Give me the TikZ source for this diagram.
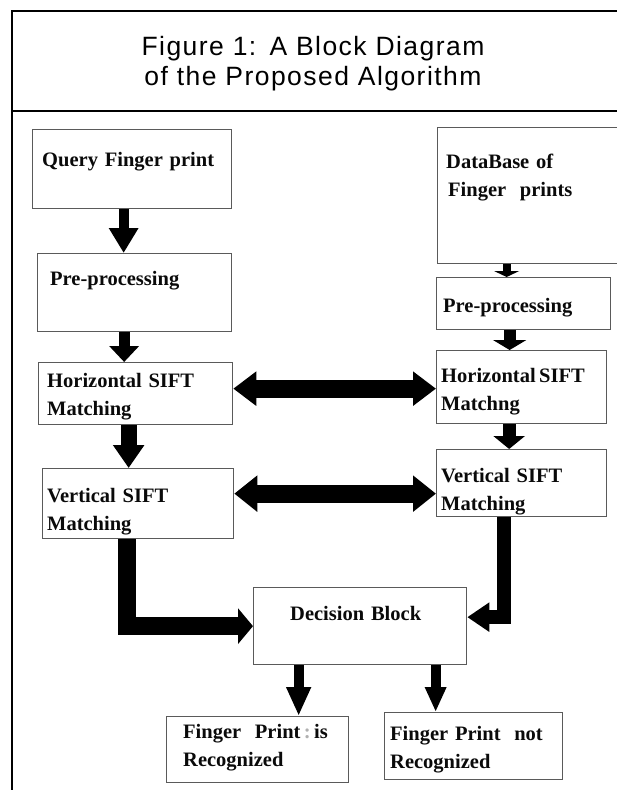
\documentclass[tikz,border=0pt]{standalone}
\usepackage{fontspec}
\setmainfont{Liberation Serif}
\newfontfamily\titlefont{Liberation Sans}[LetterSpace=5.5]
\usetikzlibrary{arrows.meta}

\definecolor{boxgray}{HTML}{5A5A5A}
\definecolor{inkblack}{HTML}{0A0A0A}
\definecolor{colongray}{HTML}{B0B0B0}

\begin{document}
\begin{tikzpicture}[x=1pt, y=-1pt,
    box/.style={draw=boxgray, line width=1.3pt, anchor=north west, inner sep=0pt},
    txt/.style={anchor=base west, inner sep=0pt, text width=190pt, align=left, text=inkblack,
        font=\bfseries\fontsize{20.5}{28}\selectfont},
    title/.style={anchor=base, inner sep=0pt, text width=440pt, align=center,
        font=\titlefont\fontsize{26.5}{30}\selectfont},
    fat/.style n args={3}{line width=#1, -{Triangle[width=#2, length=#3]}},
    fatboth/.style n args={3}{line width=#1,
        {Triangle[width=#2, length=#3]}-{Triangle[width=#2, length=#3]}},
    frame/.style={line width=2pt}]
    \useasboundingbox (0,0) rectangle (617,790);

    % frame and heading
    \draw[frame] (12,790) -- (12,11) -- (617,11);
    \draw[frame] (12,111) -- (617,111);
    \node[title] (title) at (313,55) {Figure 1: A Block Diagram\\of the Proposed Algorithm};

    % left column
    \node[box, minimum width=199pt, minimum height=79pt,
        label={[txt, xshift=10pt, yshift=-37pt]north west:{Query Finger print}}] (query) at (32,129) {};
    \node[box, minimum width=194pt, minimum height=78pt,
        label={[txt, xshift=13pt, yshift=-32pt]north west:{Pre-processing}}] (lpre) at (37,253) {};
    \node[box, minimum width=194pt, minimum height=62pt,
        label={[txt, xshift=9pt, yshift=-25pt]north west:{Horizontal SIFT\\Matching}}] (lhor) at (38,362) {};
    \node[box, minimum width=191pt, minimum height=70pt,
        label={[txt, xshift=5pt, yshift=-34pt]north west:{Vertical SIFT\\Matching}}] (lver) at (42,468) {};

    % right column
    \node[box, minimum width=182pt, minimum height=136pt,
        label={[txt, xshift=9pt, yshift=-41pt]north west:{DataBase of\\\hspace{2pt}Finger\ \ prints}}] (dbase) at (437,127) {};
    \node[box, minimum width=174pt, minimum height=52pt,
        label={[txt, xshift=7pt, yshift=-35pt]north west:{Pre-processing}}] (rpre) at (436,277) {};
    \node[box, minimum width=170pt, minimum height=73pt,
        label={[txt, xshift=5pt, yshift=-32pt]north west:{Horizontal\,SIFT\\Matchng}}] (rhor) at (436,350) {};
    \node[box, minimum width=170pt, minimum height=67pt,
        label={[txt, xshift=5pt, yshift=-33pt]north west:{Vertical SIFT\\Matching}}] (rver) at (436,449) {};

    % decision and results
    \node[box, minimum width=213pt, minimum height=77pt,
        label={[txt, xshift=37pt, yshift=-33pt]north west:{Decision Block}}] (dec) at (253,587) {};
    \node[box, minimum width=182pt, minimum height=66pt,
        label={[txt, xshift=17pt, yshift=-22pt]north west:{Finger\ \ Print\,{\color{colongray}:}\,is\\Recognized}}] (rec) at (166,716) {};
    \node[box, minimum width=178pt, minimum height=67pt,
        label={[txt, xshift=6pt, yshift=-28pt]north west:{Finger Print\ \ not\\Recognized}}] (nrec) at (384,712) {};

    % arrows
    \draw[fat={10pt}{28pt}{25pt}] ([xshift=-8.5pt]query.south) -- ([xshift=-8.5pt]query.south |- lpre.north);
    \draw[fat={11pt}{29pt}{16pt}] ([xshift=-10.5pt]lpre.south) -- ([xshift=-10.5pt]lpre.south |- lhor.north);
    \draw[fat={16pt}{30pt}{23pt}] ([xshift=-7pt]lhor.south) -- ([xshift=-7pt]lhor.south |- lver.north);
    \draw[fat={8pt}{25pt}{6pt}] ([xshift=-17pt]rpre.north |- dbase.south) -- ([xshift=-17pt]rpre.north);
    \draw[fat={12pt}{33pt}{10pt}] ([xshift=-14pt]rpre.south) -- ([xshift=-14pt]rpre.south |- rhor.north);
    \draw[fat={13pt}{31pt}{13pt}] ([xshift=-12.5pt]rhor.south) -- ([xshift=-12.5pt]rhor.south |- rver.north);
    \draw[fatboth={18pt}{33pt}{23pt}] ([yshift=5pt]lhor.east) -- ([yshift=5pt]lhor.east -| rhor.west);
    \draw[fatboth={18pt}{35pt}{23pt}] ([yshift=10pt]lver.east) -- ([yshift=10pt]lver.east -| rver.west);
    \draw[fat={18pt}{35pt}{15pt}, line join=miter] ([xshift=-11pt]lver.south) |- (dec.west);
    \draw[fat={13.5pt}{28pt}{22pt}, line join=miter] ([xshift=-17.5pt]rver.south) |- ([yshift=9pt]dec.east);
    \draw[fat={10pt}{23pt}{29pt}] ([xshift=-61.5pt]dec.south) -- ([xshift=-61.5pt]dec.south |- rec.north);
    \draw[fat={10pt}{20pt}{25pt}] ([xshift=75.5pt]dec.south) -- ([xshift=75.5pt]dec.south |- nrec.north);
\end{tikzpicture}
\end{document}
